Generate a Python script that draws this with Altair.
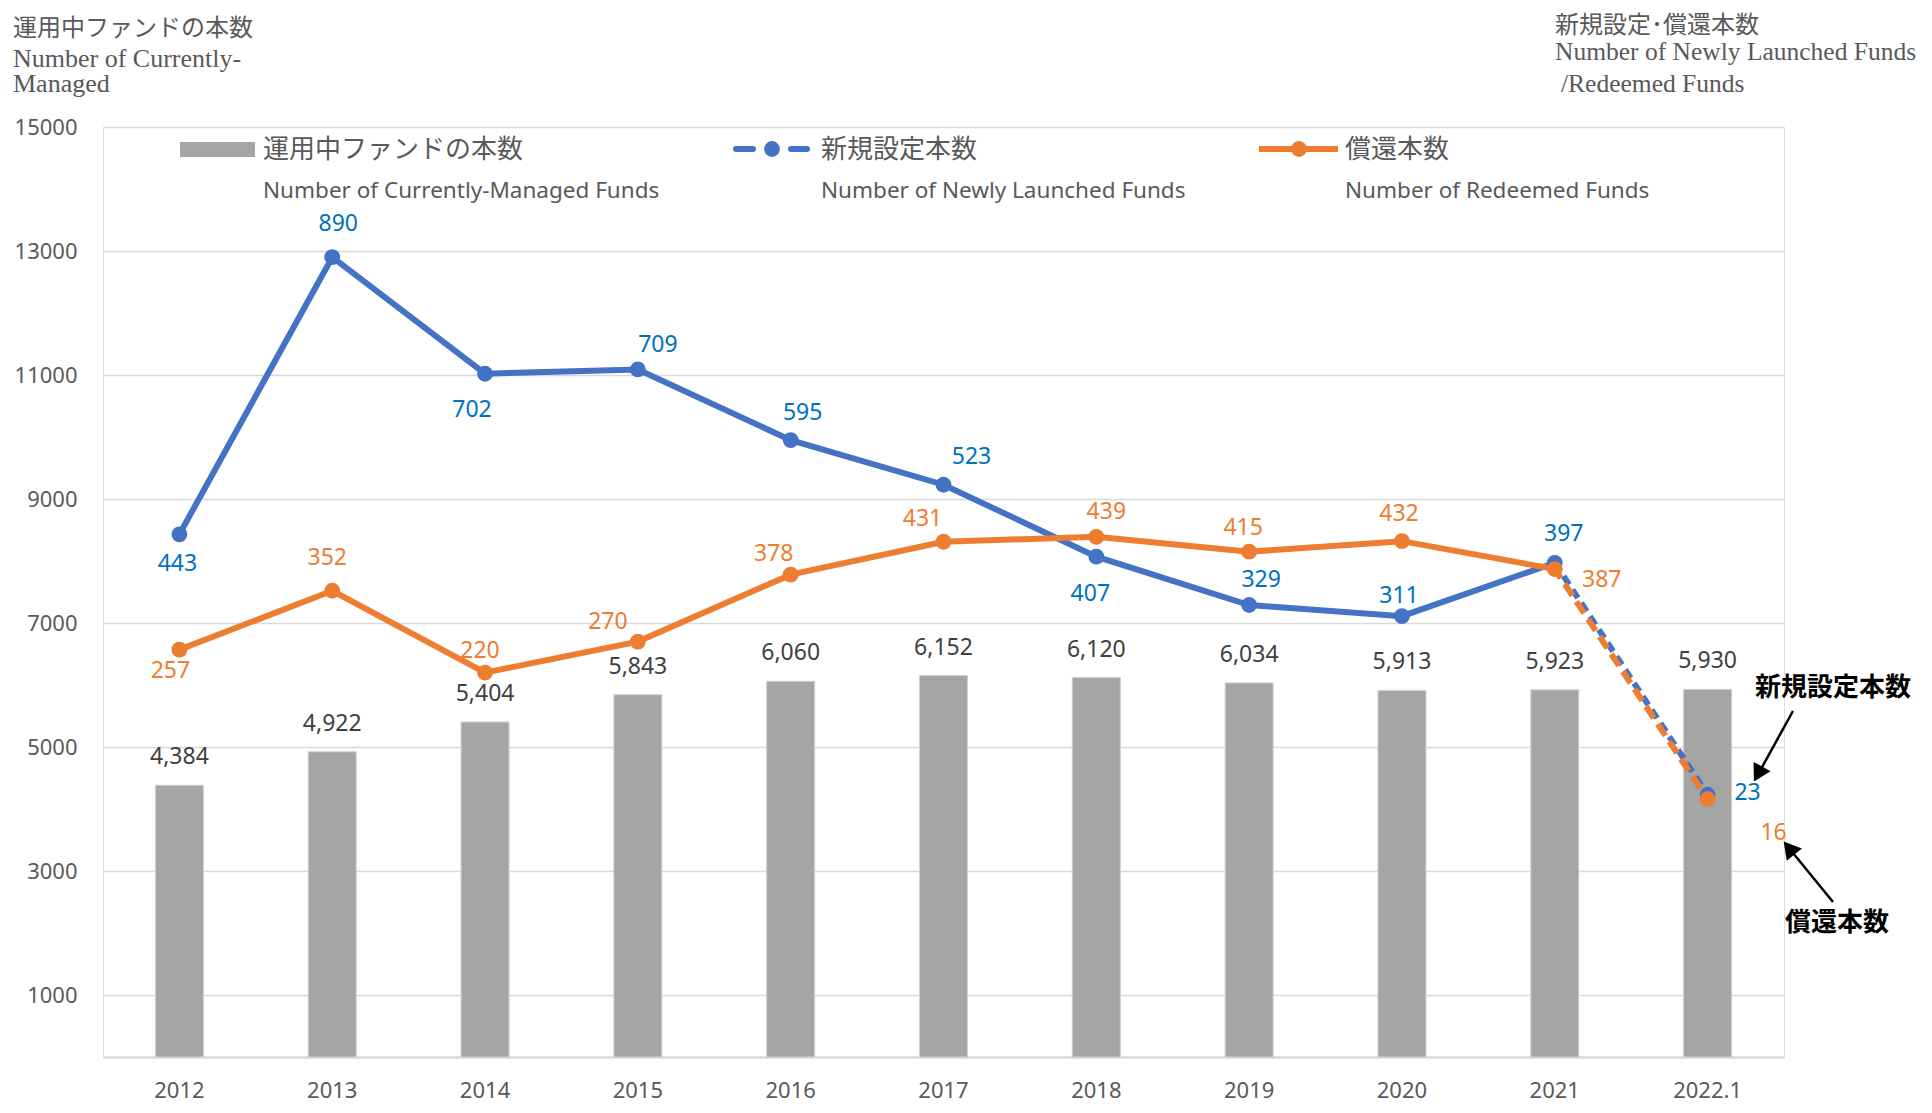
import altair as alt
import pandas as pd

# ---------------- data ----------------
years = ["2012", "2013", "2014", "2015", "2016", "2017", "2018", "2019", "2020", "2021", "2022.1"]
funds_managed = [4384, 4922, 5404, 5843, 6060, 6152, 6120, 6034, 5913, 5923, 5930]
funds_launched = [443, 890, 702, 709, 595, 523, 407, 329, 311, 397, 23]
funds_redeemed = [257, 352, 220, 270, 378, 431, 439, 415, 432, 387, 16]

left_ticks = [1000, 3000, 5000, 7000, 9000, 11000, 13000, 15000]
right_ticks = [100, 300, 500, 700, 900, 1100]

# label placement (pixel offsets from each point) - styling only
launched_dx = [-2, 6, -13, 20, 12, 28, -6, 12, -3, 9, 40]
launched_dy = [30, -33, 36, -24, -27, -28, 37, -25, -20, -29, -2]
redeemed_dx = [-9, -5, -5, -30, -17, -21, 10, -6, -3, 47, 66]
redeemed_dy = [21, -33, -22, -20, -21, -23, -25, -24, -27, 11, 34]

df = pd.DataFrame({
    "year": years,
    "idx": list(range(len(years))),
    "managed": funds_managed,
    "launched": funds_launched,
    "redeemed": funds_redeemed,
})
one = pd.DataFrame({"k": [0]})

W, H = 1681, 930
BLUE = "#4472C4"
ORANGE = "#ED7D31"
BLUE_TXT = "#0070C0"
GRAY_TXT = "#595959"
NUM_FONT = "Noto Sans"
JP_FONT = "Noto Sans CJK JP"
SERIF = "Liberation Serif"

x_enc = alt.X(
    "year:N", sort=years,
    scale=alt.Scale(type="band", paddingInner=0, paddingOuter=0),
    axis=alt.Axis(title=None, labelAngle=0, ticks=False, domain=True, domainColor="#D9D9D9",
                  domainWidth=2.5, grid=False, labelFont=NUM_FONT, labelFontSize=22,
                  labelColor=GRAY_TXT, labelPadding=33, labelBaseline="middle"),
)

left_scale = alt.Scale(domain=[0, 15000], nice=False, zero=True)
right_scale = alt.Scale(domain=[-400, 1100], nice=False, zero=False)

# ---------------- bars (left axis) ----------------
bars = alt.Chart(df).mark_bar(color="#A5A5A5", size=48, stroke="#D0D0D0", strokeWidth=1).encode(
    x=x_enc,
    y=alt.Y("managed:Q", scale=left_scale,
            axis=alt.Axis(orient="left", values=left_ticks, format="d", title=None, grid=True,
                          gridColor="#D9D9D9", gridWidth=1.5, domain=False, ticks=False, tickSize=0,
                          labelFont=NUM_FONT, labelFontSize=22, labelColor=GRAY_TXT, labelPadding=26)),
)
bar_labels = alt.Chart(df).mark_text(dy=-28, fontSize=23, font=NUM_FONT, color="#404040").encode(
    x=x_enc,
    y=alt.Y("managed:Q", scale=left_scale),
    text=alt.Text("managed:Q", format=","),
)
bar_layer = alt.layer(bars, bar_labels)

# ---------------- lines (right axis) ----------------
def yr(field, axis=False):
    if axis:
        return alt.Y(field, type="quantitative", scale=right_scale,
                     axis=alt.Axis(orient="right", values=right_ticks, format="d", title=None,
                                   grid=False, domain=False, ticks=False, tickSize=0,
                                   labelFont=NUM_FONT, labelFontSize=22, labelColor=GRAY_TXT,
                                   labelPadding=25))
    return alt.Y(field, type="quantitative", scale=right_scale, axis=None)

LW = 6
blue_solid = alt.Chart(df).transform_filter("datum.idx <= 9").mark_line(
    color=BLUE, strokeWidth=LW).encode(x=x_enc, y=yr("launched", axis=True))
orange_solid = alt.Chart(df).transform_filter("datum.idx <= 9").mark_line(
    color=ORANGE, strokeWidth=LW).encode(x=x_enc, y=yr("redeemed"))
blue_dash = alt.Chart(df).transform_filter("datum.idx >= 9").mark_line(
    color=BLUE, strokeWidth=LW, strokeDash=[10, 6]).encode(x=x_enc, y=yr("launched"))
orange_dash = alt.Chart(df).transform_filter("datum.idx >= 9").mark_line(
    color=ORANGE, strokeWidth=LW, strokeDash=[14, 7], strokeDashOffset=3).encode(x=x_enc, y=yr("redeemed"))
blue_pts = alt.Chart(df).mark_circle(color=BLUE, size=250, opacity=1).encode(x=x_enc, y=yr("launched"))
orange_pts = alt.Chart(df).mark_circle(color=ORANGE, size=250, opacity=1).encode(x=x_enc, y=yr("redeemed"))

label_layers = []
for i in range(len(years)):
    label_layers.append(
        alt.Chart(df).transform_filter(f"datum.idx == {i}").mark_text(
            dx=launched_dx[i], dy=launched_dy[i], fontSize=23, font=NUM_FONT, color=BLUE_TXT,
            baseline="middle").encode(x=x_enc, y=yr("launched"), text="launched:Q"))
    label_layers.append(
        alt.Chart(df).transform_filter(f"datum.idx == {i}").mark_text(
            dx=redeemed_dx[i], dy=redeemed_dy[i], fontSize=23, font=NUM_FONT, color=ORANGE,
            baseline="middle").encode(x=x_enc, y=yr("redeemed"), text="redeemed:Q"))

line_layer = alt.layer(blue_solid, orange_solid, blue_dash, orange_dash, blue_pts, orange_pts, *label_layers)

# ---------------- annotations / legend / titles (pixel placed) ----------------
def txt(s, x, y, size, color=GRAY_TXT, font=JP_FONT, weight="normal", baseline="middle"):
    return alt.Chart(one).mark_text(align="left", baseline=baseline, fontSize=size, font=font,
                                    fontWeight=weight, color=color).encode(
        x=alt.value(x), y=alt.value(y), text=alt.value(s))

def rule(x1, y1, x2, y2, color, width, dash=None, cap="butt"):
    kw = dict(color=color, strokeWidth=width, strokeCap=cap)
    if dash:
        kw["strokeDash"] = dash
    return alt.Chart(one).mark_rule(**kw).encode(
        x=alt.value(x1), y=alt.value(y1), x2=alt.value(x2), y2=alt.value(y2))

def dot(x, y, color, size=250, shape="circle", angle=0):
    return alt.Chart(one).mark_point(filled=True, opacity=1, color=color, size=size,
                                     shape=shape, angle=angle).encode(x=alt.value(x), y=alt.value(y))

legend = [
    alt.Chart(one).mark_rect(color="#A5A5A5").encode(
        x=alt.value(77), x2=alt.value(152), y=alt.value(15), y2=alt.value(30)),
    txt("運用中ファンドの本数", 160, 23, 26),
    txt("Number of Currently-Managed Funds", 160, 64, 22.5, font=NUM_FONT),
    rule(633, 22, 650, 22, BLUE, 6, cap="round"),
    rule(688, 22, 704, 22, BLUE, 6, cap="round"),
    dot(669, 22, BLUE),
    txt("新規設定本数", 718, 23, 26),
    txt("Number of Newly Launched Funds", 718, 64, 22.5, font=NUM_FONT),
    rule(1156, 22, 1235, 22, ORANGE, 6),
    dot(1196, 22, ORANGE),
    txt("償還本数", 1242, 23, 26),
    txt("Number of Redeemed Funds", 1242, 64, 22.5, font=NUM_FONT),
]

titles = [
    txt("運用中ファンドの本数", -90, -98, 24),
    txt("Number of Currently-", -90, -60, 26, font=SERIF, baseline="alphabetic"),
    txt("Managed", -90, -35, 26, font=SERIF, baseline="alphabetic"),
    txt("新規設定･償還本数", 1452, -101, 24),
    txt("Number of Newly Launched Funds", 1452, -67, 25.5, font=SERIF, baseline="alphabetic"),
    txt("/Redeemed Funds", 1458, -35, 25.5, font=SERIF, baseline="alphabetic"),
]

annots = [
    txt("新規設定本数", 1652, 561, 26, color="black", weight="bold"),
    rule(1690, 584, 1658, 642, "black", 2.5),
    dot(1655, 647, "black", size=380, shape="triangle-up", angle=209),
    txt("償還本数", 1682, 796, 26, color="black", weight="bold"),
    rule(1730, 775, 1690, 726, "black", 2.5),
    dot(1686, 721, "black", size=380, shape="triangle-up", angle=321),
]

chart = alt.layer(bar_layer, line_layer, *legend, *titles, *annots).resolve_scale(
    y="independent"
).properties(
    width=W, height=H,
    autosize=alt.AutoSizeParams(type="none"),
    padding={"left": 95, "top": 119, "right": 136, "bottom": 47},
).configure_view(stroke="transparent", strokeWidth=0).configure(background="white")

chart.save("out.html", embed_options={"renderer": "svg", "actions": False})
